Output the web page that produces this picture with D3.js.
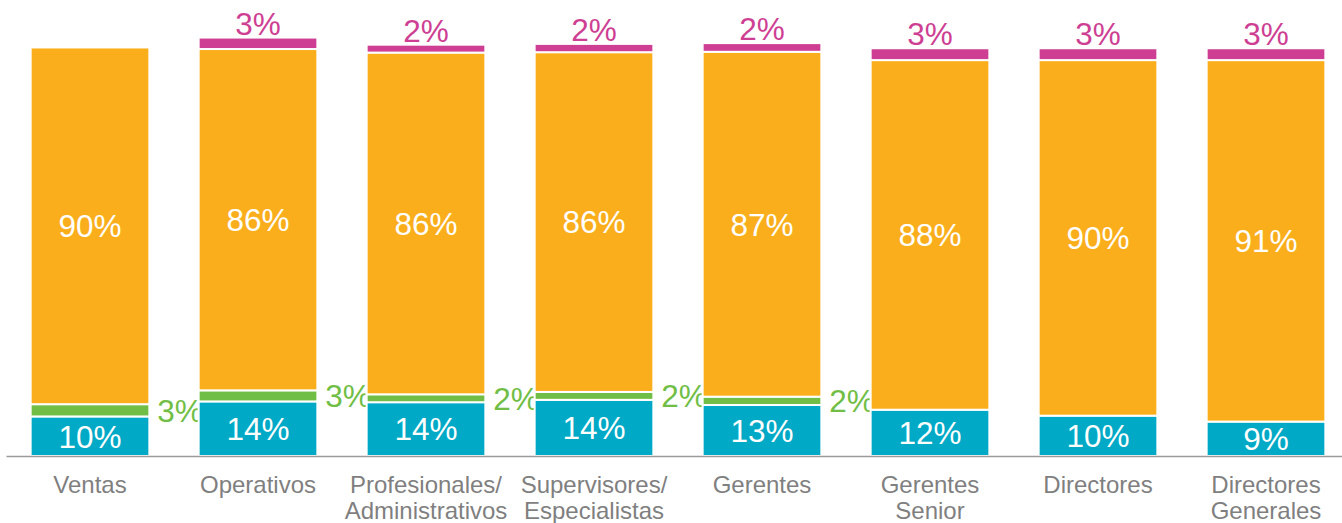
<!DOCTYPE html>
<html>
<head>
<meta charset="utf-8">
<script src="https://cdn.jsdelivr.net/npm/d3@7"></script>
<style>
  html, body { margin: 0; padding: 0; background: #ffffff; }
  svg { display: block; font-family: "Liberation Sans", Arial, sans-serif; }
</style>
</head>
<body>
<svg id="chart" width="1342" height="523"></svg>
<script>
// ---- data ----
const categories = [
  "Ventas", "Operativos", "Profesionales/\nAdministrativos", "Supervisores/\nEspecialistas",
  "Gerentes", "Gerentes\nSenior", "Directores", "Directores\nGenerales"
];
const seriesBlue    = [10.0, 13.8, 13.6, 14.2, 12.9, 11.7, 10.2, 8.7];
const seriesGreen   = [3.1, 2.8, 2.0, 2.0, 2.1, 0, 0, 0];
const seriesOrange  = [90.2, 86.3, 86.4, 85.9, 87.2, 88.4, 89.9, 91.4];
const seriesMagenta = [0, 2.9, 2.0, 2.1, 2.2, 3.0, 3.0, 3.0];
const labelsBlue    = ["10%", "14%", "14%", "14%", "13%", "12%", "10%", "9%"];
const labelsGreen   = ["3%", "3%", "2%", "2%", "2%", "", "", ""];
const labelsOrange  = ["90%", "86%", "86%", "86%", "87%", "88%", "90%", "91%"];
const labelsMagenta = ["", "3%", "2%", "2%", "2%", "3%", "3%", "3%"];

const seriesKeys = ["blue", "green", "orange", "magenta"];
const colors = { blue: "#00A9C6", green: "#70BE45", orange: "#FAAE1B", magenta: "#CE3F93" };

const table = categories.map((c, i) => ({
  cat: c, blue: seriesBlue[i], green: seriesGreen[i], orange: seriesOrange[i], magenta: seriesMagenta[i],
  lBlue: labelsBlue[i], lGreen: labelsGreen[i], lOrange: labelsOrange[i], lMagenta: labelsMagenta[i]
}));

const svg = d3.select("#chart");
const baseY = 456;

const x = d3.scaleBand().domain(categories).range([6, 1350])
  .paddingInner(0.2935).paddingOuter(0.14675);
const y = d3.scaleLinear().domain([0, 100]).range([baseY, baseY - 395.5]);

const stacked = d3.stack().keys(seriesKeys)(table);
const fs = 31.5;

// green labels (drawn behind bars)
svg.append("g").selectAll("text").data(stacked[1]).join("text")
  .attr("x", d => x(d.data.cat) + x.bandwidth() + 8)
  .attr("y", d => (y(d[0]) + y(d[1])) / 2 + fs * 0.358)
  .attr("font-size", fs).attr("fill", colors.green)
  .text(d => d.data.lGreen);

// bars
svg.append("g").selectAll("g").data(stacked).join("g")
  .attr("fill", s => colors[s.key])
  .selectAll("rect").data(s => s.filter(d => d[1] - d[0] > 0)).join("rect")
  .attr("x", d => x(d.data.cat))
  .attr("width", x.bandwidth())
  .attr("y", d => y(d[1]))
  .attr("height", d => y(d[0]) - y(d[1]))
  .attr("stroke", "#ffffff").attr("stroke-width", 2);

// blue labels
svg.append("g").selectAll("text").data(stacked[0]).join("text")
  .attr("x", d => x(d.data.cat) + x.bandwidth() / 2)
  .attr("y", d => (y(d[0]) + y(d[1])) / 2 + fs * 0.358)
  .attr("text-anchor", "middle").attr("font-size", fs).attr("fill", "#ffffff")
  .text(d => d.data.lBlue);

// orange labels
svg.append("g").selectAll("text").data(stacked[2]).join("text")
  .attr("x", d => x(d.data.cat) + x.bandwidth() / 2)
  .attr("y", d => (y(d[0]) + y(d[1])) / 2 + fs * 0.358)
  .attr("text-anchor", "middle").attr("font-size", fs).attr("fill", "#ffffff")
  .text(d => d.data.lOrange);

// magenta labels
svg.append("g").selectAll("text").data(stacked[3]).join("text")
  .attr("x", d => x(d.data.cat) + x.bandwidth() / 2)
  .attr("y", d => y(d[1]) - 3)
  .attr("text-anchor", "middle").attr("font-size", fs).attr("fill", colors.magenta)
  .text(d => d.data.lMagenta);

// axis
const axis = svg.append("g").attr("transform", `translate(0,${baseY})`)
  .call(d3.axisBottom(x).tickSize(0).tickSizeOuter(0).tickPadding(0));
axis.select(".domain").attr("stroke", "#9B9B9B").attr("stroke-width", 1.5);
axis.selectAll(".tick text").each(function(d) {
  const t = d3.select(this);
  t.text(null).attr("y", 0).attr("dy", null)
    .attr("font-size", 24).attr("fill", "#7F7F7F")
    .attr("font-family", "'Liberation Sans', Arial, sans-serif");
  d.split("\n").forEach((line, i) => {
    t.append("tspan").attr("x", 0).attr("y", 36.7 + i * 26.5).text(line);
  });
});
</script>
</body>
</html>
